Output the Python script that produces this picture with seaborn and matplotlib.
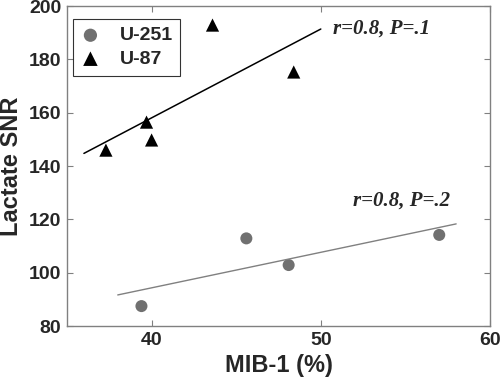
import numpy as np
import pandas as pd
import matplotlib
matplotlib.use("Agg")
import matplotlib.pyplot as plt
import seaborn as sns

# %% data
u251_mib = [39.4, 45.6, 48.1, 57.0]
u251_snr = [87.5, 112.9, 102.9, 114.2]
u87_mib = [37.3, 39.7, 40.0, 43.6, 48.4]
u87_snr = [146.0, 156.5, 149.8, 192.9, 175.3]

# x-span of the drawn fit lines
u251_fit_range = [38.0, 58.0]
u87_fit_range = [36.0, 50.0]

u251_label = "r=0.8, P=.2"
u87_label = "r=0.8, P=.1"

# %% style
sns.set_style("ticks")
plt.rcParams['font.family'] = ['Liberation Sans', 'DejaVu Sans']
plt.rcParams['font.weight'] = 'bold'

gray = '#707070'

fig = plt.figure(figsize=(5, 3.85), dpi=100)
ax = fig.add_axes([0.134, 0.153, 0.846, 0.831])

df251 = pd.DataFrame({'mib': u251_mib, 'snr': u251_snr})
df87 = pd.DataFrame({'mib': u87_mib, 'snr': u87_snr})

# least-squares fit lines
for d, rng, col, lw in [(df251, u251_fit_range, '#808080', 1.0),
                        (df87, u87_fit_range, 'black', 1.1)]:
    k, b = np.polyfit(d['mib'], d['snr'], 1)
    xs = np.array(rng)
    sns.lineplot(x=xs, y=k * xs + b, color=col, lw=lw, ax=ax)

sns.scatterplot(data=df251, x='mib', y='snr', color=gray, marker='o', s=75,
                edgecolor='none', label='U-251', ax=ax)
sns.scatterplot(data=df87, x='mib', y='snr', color='black', marker='^', s=90,
                edgecolor='none', label='U-87', ax=ax)

ax.set_xlim(35, 60)
ax.set_ylim(80, 200)
ax.set_xticks([40, 50, 60])
ax.set_yticks([80, 100, 120, 140, 160, 180, 200])
ax.set_xlabel('MIB-1 (%)', fontsize=17, fontweight='bold', labelpad=4)
ax.set_ylabel('Lactate SNR', fontsize=17, fontweight='bold', labelpad=4)

ax.tick_params(direction='in', length=4, width=0.8, color='#808080',
               labelsize=14, top=True, right=True, pad=4)
for s in ax.spines.values():
    s.set_visible(True)
    s.set_color('#808080')
    s.set_linewidth(1.0)

# correlation labels
tfont = dict(family=['Liberation Serif', 'DejaVu Serif'], style='italic',
             fontweight='bold', fontsize=15, va='center')
ax.text(50.7, 191.5, u87_label, **tfont)
ax.text(51.9, 127, u251_label, **tfont)

leg = ax.legend(loc='upper left', bbox_to_anchor=(0.014, 0.96),
                borderaxespad=0, fontsize=14,
                frameon=True, fancybox=False, edgecolor='black',
                handlelength=1.0, handletextpad=1.0, borderpad=0.4,
                labelspacing=0.3, markerscale=1.1)
leg.get_frame().set_linewidth(0.8)

fig.savefig('out.png', dpi=100)
